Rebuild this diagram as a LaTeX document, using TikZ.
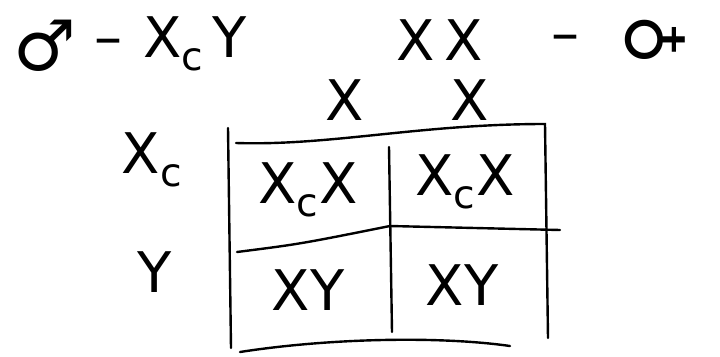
\documentclass[tikz,border=0pt]{standalone}
\usepackage{fontspec}
\setmainfont{DejaVu Sans}
\usetikzlibrary{positioning}

\begin{document}
\begin{tikzpicture}[x=1pt, y=-1pt,
   lbl/.style={inner sep=0pt, font=\fontsize{56}{56}\selectfont},
   sym/.style={inner sep=0pt, font=\fontsize{70}{70}\selectfont},
   gamete/.style={lbl},
   grd/.style={black, line width=2.4pt, line cap=round}]
  \useasboundingbox (0,0) rectangle (720,356);
  % parents
  \node[sym] (male) at (45,46) {♂};
  \node[lbl] (dm) at (108,48) {–};
  \node[lbl] (dad) at (195,44) {X\textsubscript{c}\,Y};
  \node[lbl] (mom) at (440,40) {X\,X};
  \node[lbl] (dw) at (565,44) {–};
  \node[sym, rotate=90] (female) at (655,40) {♀};
  % gametes
  \node[gamete] (m1) at (345,100) {X};
  \node[gamete] (m2) at (470,100) {X};
  \node[gamete] (f1) at (152,160) {X\textsubscript{c}};
  \node[gamete] (f2) at (155,272) {Y};
  % square
  \coordinate (tl) at (228,128);  \coordinate (bl) at (231,348);
  \coordinate (t0) at (236,143);  \coordinate (tr) at (545,124);
  \coordinate (br) at (548,338);  \coordinate (b0) at (240,352);
  \coordinate (ml) at (237,252);  \coordinate (mm) at (390,226);
  \coordinate (mr) at (560,230);  \coordinate (vt) at (389,147);
  \coordinate (vb) at (392,332);
  \draw[grd] (tl) -- (bl);
  \draw[grd] (t0) .. controls (330,146) and (420,124) .. (tr) -- (br);
  \draw[grd] (b0) .. controls (330,338) and (440,336) .. (510,346);
  \draw[grd] (ml) .. controls (300,244) .. (mm) -- (mr);
  \draw[grd] (vt) -- (vb);
  % offspring
  \node[lbl] (c11) at (308,190) {X\textsubscript{c}X};
  \node[lbl] (c12) at (465,182) {X\textsubscript{c}X};
  \node[lbl] (c21) at (308,290) {XY};
  \node[lbl] (c22) at (462,285) {XY};
\end{tikzpicture}
\end{document}
